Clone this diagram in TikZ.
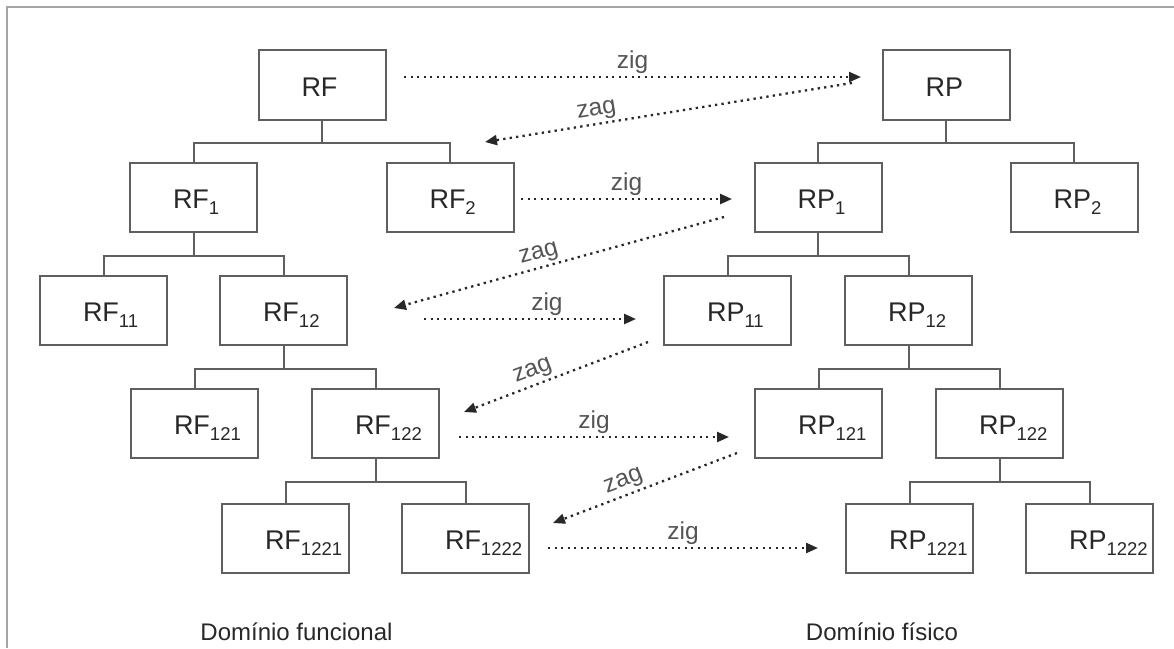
\documentclass[tikz,border=0pt]{standalone}
\usepackage{fontspec}
\setmainfont{Liberation Sans}
\usetikzlibrary{arrows.meta}

\definecolor{linegray}{RGB}{95,95,95}
\definecolor{textdark}{RGB}{40,40,40}
\definecolor{labelgray}{RGB}{85,85,85}
\definecolor{framegray}{RGB}{165,165,165}

% requirement label: main letters at a fixed inset, index as a lowered subscript
\newcommand{\reqlabel}[2]{\makebox[127pt][l]{\hspace{43pt}#1\raisebox{-6pt}{\fontsize{18.5}{18.5}\selectfont #2}}}

\tikzset{
  req/.style={draw=linegray, line width=2pt, minimum width=127pt,
    minimum height=69.5pt, inner sep=0pt, text=textdark,
    font=\fontsize{27}{27}\selectfont, text height=22pt, text depth=0pt},
  tree/.style={draw=linegray, line width=2pt},
  flow/.style={draw=textdark, line width=2.3pt, dash pattern=on 2.3pt off 4.2pt,
    -{Triangle[length=12pt,width=10pt]}},
  flowlbl/.style={text=labelgray, font=\fontsize{24.5}{24.5}\selectfont, inner sep=2.5pt},
  caption/.style={text=textdark, font=\fontsize{24}{24}\selectfont, anchor=base, inner sep=0pt}
}

\begin{document}
\begin{tikzpicture}[x=1pt,y=-1pt]
\useasboundingbox (0,0) rectangle (1174,648);
\fill[white] (0,0) rectangle (1174,648);
\draw[framegray, line width=2pt] (6.5,648) -- (6.5,6.5) -- (1174,6.5);

% functional domain
\node[req] (RF)     at (322,85)      {\reqlabel{RF}{}};
\node[req] (RF1)    at (193.5,197.5) {\reqlabel{RF}{1}};
\node[req] (RF2)    at (450,197.5)   {\reqlabel{RF}{2}};
\node[req] (RF11)   at (103.5,310.5) {\reqlabel{RF}{11}};
\node[req] (RF12)   at (283.5,310.5) {\reqlabel{RF}{12}};
\node[req] (RF121)  at (194.5,423.5) {\reqlabel{RF}{121}};
\node[req] (RF122)  at (375.5,423.5) {\reqlabel{RF}{122}};
\node[req] (RF1221) at (285.5,538.5) {\reqlabel{RF}{1221}};
\node[req] (RF1222) at (465.5,538.5) {\reqlabel{RF}{1222}};

% physical domain
\node[req] (RP)     at (946,85)      {\reqlabel{RP}{}};
\node[req] (RP1)    at (818,197.5)   {\reqlabel{RP}{1}};
\node[req] (RP2)    at (1074,197.5)  {\reqlabel{RP}{2}};
\node[req] (RP11)   at (727.5,310.5) {\reqlabel{RP}{11}};
\node[req] (RP12)   at (908.5,310.5) {\reqlabel{RP}{12}};
\node[req] (RP121)  at (818.5,423.5) {\reqlabel{RP}{121}};
\node[req] (RP122)  at (999.5,423.5) {\reqlabel{RP}{122}};
\node[req] (RP1221) at (909.5,538.5) {\reqlabel{RP}{1221}};
\node[req] (RP1222) at (1089.5,538.5){\reqlabel{RP}{1222}};

% decomposition trees
\foreach \p/\a/\b in {RF/RF1/RF2, RF1/RF11/RF12, RF12/RF121/RF122, RF122/RF1221/RF1222,
                      RP/RP1/RP2, RP1/RP11/RP12, RP12/RP121/RP122, RP122/RP1221/RP1222} {
  \draw[tree] (\p.south) -- ++(0,22.5) -| (\a.north);
  \draw[tree] (\p.south) -- ++(0,22.5) -| (\b.north);
}

% zigzag mapping
\draw[flow] ([shift={(17.5,-8)}]RF.east) -- ([shift={(-20.5,-8)}]RP.west)
  node[flowlbl, midway, above] {zig};
\draw[flow] ([shift={(-29.5,-2)}]RP.west) -- ([shift={(35,-19.75)}]RF2.north)
  node[flowlbl, pos=0.69, sloped, above] {zag};
\draw[flow] ([shift={(6.5,1.5)}]RF2.east) -- ([shift={(-21.5,1.5)}]RP1.west)
  node[flowlbl, midway, above] {zig};
\draw[flow] ([shift={(-29.5,19.5)}]RP1.west) -- ([shift={(46,-2.5)}]RF12.east)
  node[flowlbl, pos=0.55, sloped, above] {zag};
\draw[flow] ([shift={(76,8.5)}]RF12.east) -- ([shift={(-27,8.5)}]RP11.west)
  node[flowlbl, pos=0.58, above] {zig};
\draw[flow] ([shift={(-15,31.5)}]RP11.west) -- ([shift={(24,-11.5)}]RF122.east)
  node[flowlbl, pos=0.6, sloped, above] {zag};
\draw[flow] ([shift={(19,13.5)}]RF122.east) -- ([shift={(-25,13.5)}]RP121.west)
  node[flowlbl, midway, above] {zig};
\draw[flow] ([shift={(-17,29.5)}]RP121.west) -- ([shift={(23,-15.5)}]RF1222.east)
  node[flowlbl, pos=0.59, sloped, above] {zag};
\draw[flow] ([shift={(18,9.5)}]RF1222.east) -- ([shift={(-27,9.5)}]RP1221.west)
  node[flowlbl, midway, above] {zig};

% domain captions
\node[caption] (dfun) at (296.5,640) {Domínio funcional};
\node[caption] (dfis) at (882,640)   {Domínio físico};
\end{tikzpicture}
\end{document}
